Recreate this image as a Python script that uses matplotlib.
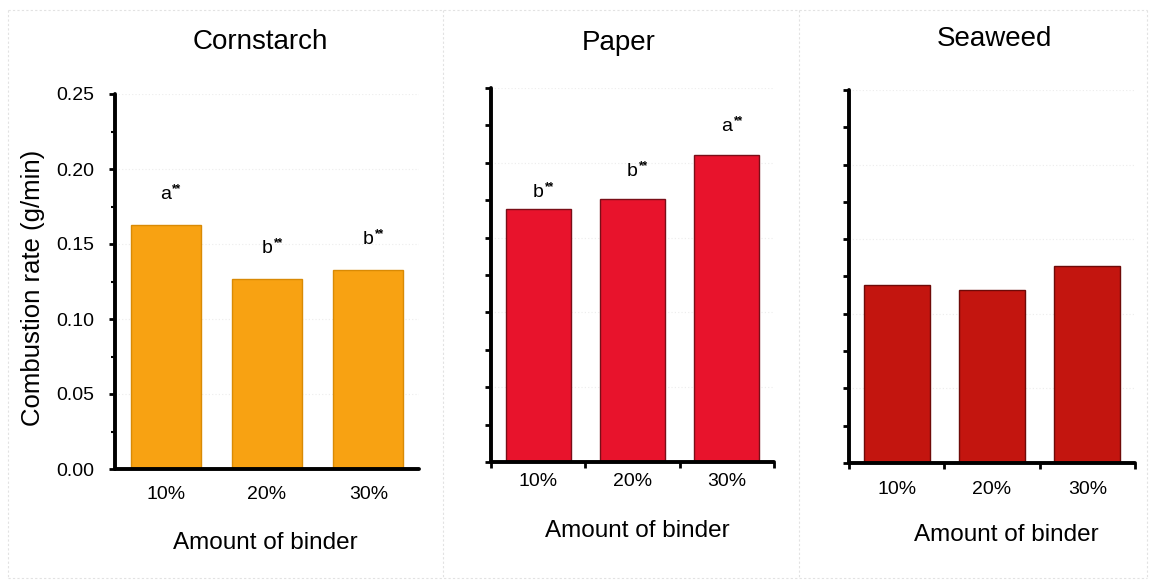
import matplotlib
matplotlib.use("Agg")
import matplotlib.pyplot as plt
from matplotlib.lines import Line2D
from matplotlib.ticker import MultipleLocator
import numpy as np

plt.rcParams['font.family'] = ['Liberation Sans', 'DejaVu Sans']

# Combustion rate (g/min) by binder type and amount
binder = ['10%', '20%', '30%']
cornstarch = [0.163, 0.127, 0.133]
paper = [0.169, 0.176, 0.205]
seaweed = [0.119, 0.116, 0.132]

# Significance letters (each followed by **)
cornstarch_sig = ['a', 'b', 'b']
paper_sig = ['b', 'b', 'a']
seaweed_sig = []

titles = ['Cornstarch', 'Paper', 'Seaweed']
colors = ['#F8A212', '#E8132C', '#C3150F']
edges = ['#D98A05', '#7A0E18', '#6E0A08']

W, H = 1152, 584
fig = plt.figure(figsize=(W / 100, H / 100), dpi=100)
fig.patch.set_facecolor('white')


def px_rect(left, right, top, bottom):
    return [left / W, 1 - bottom / H, (right - left) / W, (bottom - top) / H]


axes_px = [
    (115, 419, 94, 469),
    (491, 774, 88, 462),
    (849, 1135, 90, 463),
]
title_pos = [(260, 42), (619, 43), (994, 39)]
xlabel_pos = [(265, 543), (637, 531), (1006, 535)]
xtick_pad = [12, 8, 13]
label_gap = [[0.017, 0.017, 0.017], [0.008, 0.015, 0.016], []]

# faint panel frames
frame_col = '#e2e2e2'
for x in [8, 443, 799, 1147]:
    fig.add_artist(Line2D([x / W, x / W], [1 - 10 / H, 1 - 578 / H],
                          color=frame_col, lw=0.8, ls=(0, (2, 2))))
for y in [10, 578]:
    fig.add_artist(Line2D([8 / W, 1147 / W], [1 - y / H, 1 - y / H],
                          color=frame_col, lw=0.8, ls=(0, (2, 2))))

series = [cornstarch, paper, seaweed]
sigs = [cornstarch_sig, paper_sig, seaweed_sig]
x = np.arange(len(binder))

for i, (vals, sig) in enumerate(zip(series, sigs)):
    ax = fig.add_axes(px_rect(*axes_px[i]))
    ax.set_ylim(0, 0.25)
    ax.set_xlim(-0.5, 2.5)
    for g in np.arange(0.05, 0.251, 0.05):
        ax.axhline(g, color='#ececec', lw=0.8, ls=(0, (1, 2)), zorder=0)
    ax.bar(x, vals, width=0.69, color=colors[i], edgecolor=edges[i],
           linewidth=1.0, zorder=2)

    for s in ['top', 'right']:
        ax.spines[s].set_visible(False)
    for s in ['left', 'bottom']:
        ax.spines[s].set_linewidth(2.8)
        ax.spines[s].set_color('black')
        ax.spines[s].set_capstyle('round')

    ax.set_xticks(x)
    ax.set_xticklabels(binder, fontsize=14)
    ax.tick_params(axis='x', which='major', length=0, pad=xtick_pad[i])

    ax.yaxis.set_major_locator(MultipleLocator(0.05))
    ax.yaxis.set_minor_locator(MultipleLocator(0.025))
    if i == 0:
        ax.set_yticks(np.arange(0, 0.251, 0.05))
        ax.set_yticklabels([f'{v:.2f}' for v in np.arange(0, 0.251, 0.05)],
                           fontsize=14)
        ax.tick_params(axis='y', which='major', length=4, width=2, pad=11)
        ax.tick_params(axis='y', which='minor', length=3, width=1.5)
        fig.text(33 / W, 1 - 288 / H, 'Combustion rate (g/min)', rotation=90,
                 fontsize=18.5, ha='center', va='center')
    else:
        ax.tick_params(axis='y', which='major', length=4, width=2,
                       labelleft=False)
        ax.tick_params(axis='y', which='minor', length=4, width=2)
        ax.set_xticks([-0.5, 0.5, 1.5, 2.5], minor=True)
        ax.tick_params(axis='x', which='minor', length=4, width=2,
                       direction='out')

    for j, letter in enumerate(sig):
        y = vals[j] + label_gap[i][j]
        ax.annotate(letter, (x[j], y), ha='center', va='baseline',
                    fontsize=14, zorder=3)
        ax.annotate('**', (x[j], y), xytext=(4.8, 5),
                    textcoords='offset points', ha='left', va='baseline',
                    fontsize=8.5, fontweight='bold', zorder=3)

    fig.text(title_pos[i][0] / W, 1 - title_pos[i][1] / H, titles[i],
             fontsize=20, ha='center', va='center')
    fig.text(xlabel_pos[i][0] / W, 1 - xlabel_pos[i][1] / H,
             'Amount of binder', fontsize=17.5, ha='center', va='center')

fig.savefig('out.png', dpi=100, facecolor='white')
